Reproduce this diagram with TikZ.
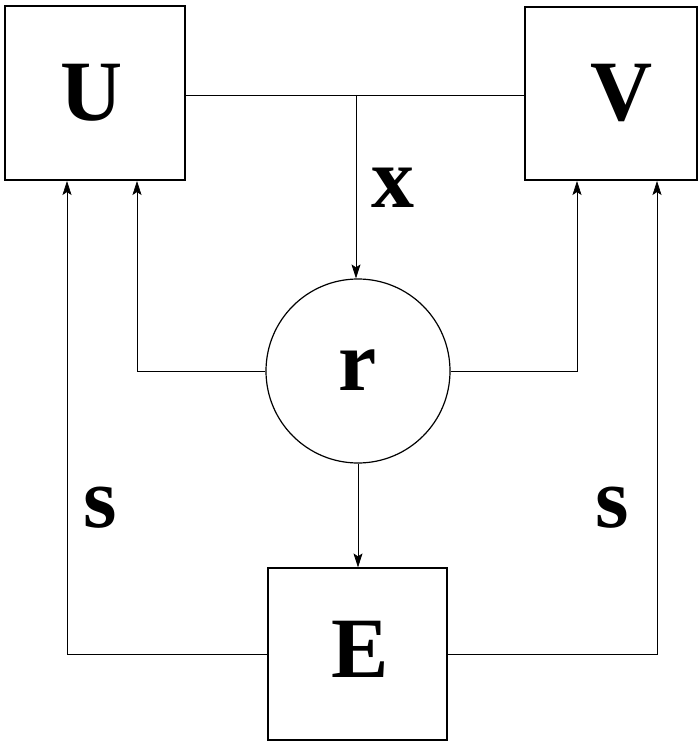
\documentclass[tikz,border=0pt]{standalone}
\usepackage{fontspec}
\setmainfont{Liberation Serif}
\usetikzlibrary{arrows.meta}
\begin{document}
\begin{tikzpicture}[x=1pt,y=-1pt,
  blk/.style={draw,line width=1.2pt,inner sep=0pt},
  lbl/.style={inner sep=0pt,font=\fontsize{86}{86}\selectfont\bfseries},
  conn/.style={line width=0.7pt},
  arr/.style={conn,-{Stealth[length=14pt,width=9pt,inset=3pt]}}]
\useasboundingbox (0,0) rectangle (699,741);
% blocks
\node[blk,minimum width=180pt,minimum height=174pt] (U) at (95,93) {};
\node[blk,minimum width=172pt,minimum height=173pt] (V) at (611,93.5) {};
\node[blk,minimum width=179pt,minimum height=172pt] (E) at (357.5,654) {};
\node[blk,circle,minimum size=184pt] (r) at (358,371) {};
% letters
\node[lbl] (tU) at (92,93) {U};
\node[lbl] (tV) at (622,93) {V};
\node[lbl] (tE) at (360,649) {E};
\node[lbl] (tr) at (358,370) {r};
\node[lbl] (tx) at (393,188) {x};
\node[lbl] (ts1) at (100,508) {s};
\node[lbl] (ts2) at (612,508) {s};
% junction coordinates
\coordinate (top) at (356,95);
\coordinate (uL) at (67,181);
\coordinate (uR) at (137,181);
\coordinate (vL) at (577,181);
\coordinate (vR) at (657,181);
% connectors
\draw[conn] (U.east |- top) -- (V.west |- top);
\draw[arr] (top) -- (top |- r.north);
\draw[arr] (r.south) -- (r.south |- E.north);
\draw[arr] (r.west) -| (uR);
\draw[arr] (r.east) -| (vL);
\draw[arr] (E.west) -| (uL);
\draw[arr] (E.east) -| (vR);
\end{tikzpicture}
\end{document}
